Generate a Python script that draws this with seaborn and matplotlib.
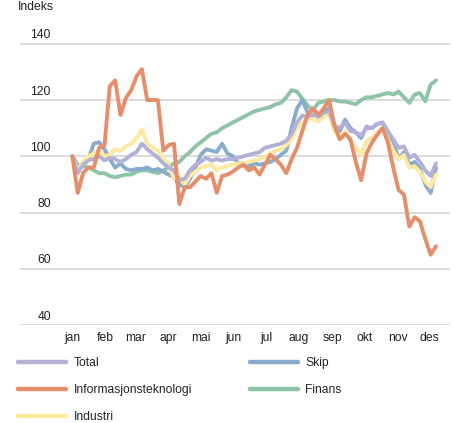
import matplotlib
matplotlib.use("Agg")
import matplotlib.pyplot as plt
import numpy as np
import pandas as pd
import seaborn as sns

# index values, one point every 5 days from 1 Jan
dates = pd.date_range("2022-01-01", periods=69, freq="5D")

total = [100, 94, 97, 98.5, 99, 100, 98.5, 99.5, 99, 98, 99, 100.5, 101.5, 104.5, 102.5,
         101, 99.5, 97.5, 96, 95, 91.5, 92, 95, 97, 98, 99.5, 98.5, 99, 98.5, 99,
         99, 99.5, 100, 100.5, 101, 101.5, 103, 103.5, 104, 104.5, 105.5, 108, 112, 114.5, 114,
         115, 114, 115.5, 116, 111, 110, 112, 109, 108.5, 107.5, 110, 110, 111.5, 112, 109,
         106, 103, 103.5, 99.5, 100.5, 98, 95, 93, 97.5]
it = [100, 87, 94, 96, 96, 103, 104, 125, 127, 114.7, 120.7, 123.5, 128.4, 131, 120,
      120, 120, 102, 104, 104.5, 83, 89, 89, 91, 93, 92, 94, 87, 93, 93.5,
      94.5, 96, 97, 95, 96, 93.5, 97, 100.5, 99, 97, 94, 99, 103, 109, 114.7,
      117, 114.7, 117, 120, 111, 106, 108, 106, 98, 91.5, 101, 104.8, 107.6, 110, 105,
      96, 88, 86.4, 75, 78.3, 76.9, 70.5, 65, 68]
industri = [100, 95, 98, 100, 101, 102, 100, 100.5, 102.5, 102, 103.5, 104.5, 106.5, 109.5, 104.5,
            103, 102, 99.5, 97, 92, 93, 90, 93, 94.5, 96, 96.5, 97, 95, 96, 96.5,
            97, 97.5, 97.5, 98, 98.5, 99, 100, 101, 102, 102.5, 104, 106, 110, 112, 113.5,
            113, 112.5, 114, 115, 109, 106.5, 109, 105.5, 103, 100.5, 105.5, 106.5, 108.5, 110, 106,
            102, 99, 100.5, 96, 96.5, 94.5, 91, 89, 93.5]
skip = [100, 95, 97, 99, 104.5, 105, 102.5, 99, 96, 97.5, 95.5, 95, 95.5, 95.5, 96,
        95, 95.5, 94.5, 93.5, 92.5, 90, 89, 92, 96, 100.5, 102.5, 102, 101.5, 104.5, 101,
        100, 97.5, 97.5, 96.5, 97.5, 97, 97.5, 98, 99, 100.5, 102, 110, 117, 120, 115.5,
        114.5, 115, 116, 117, 111, 109, 113, 110, 108.5, 106.5, 110.5, 110, 111.5, 112, 108,
        105, 99, 101.5, 97, 98, 95.5, 90, 87, 96]
finans = [100, 97, 96.5, 96, 95, 94, 94, 93, 92.5, 93, 93.5, 93.5, 94.5, 95, 95,
          94.5, 94, 95, 96, 97.5, 98, 100, 101.5, 103.5, 105, 106.5, 108, 108.5, 110, 111,
          112, 113, 114, 115, 116, 116.5, 117, 117.5, 118.5, 119, 121, 123.5, 123, 120.5, 118,
          116.5, 119, 119.5, 120, 120, 119.5, 119.5, 119, 118.5, 120, 121, 121, 121.5, 122, 122.5,
          122, 123, 121, 119, 122, 122.5, 119.5, 125.5, 127]

series = {
    "Total": total,
    "Informasjonsteknologi": it,
    "Industri": industri,
    "Skip": skip,
    "Finans": finans,
}
colors = {
    "Total": "#b4b1d9",
    "Informasjonsteknologi": "#e58e6b",
    "Industri": "#fde9a0",
    "Skip": "#89abce",
    "Finans": "#8fc4a8",
}
draw_order = ["Finans", "Skip", "Industri", "Total", "Informasjonsteknologi"]
legend_order = ["Total", "Informasjonsteknologi", "Industri", "Skip", "Finans"]
month_labels = ["jan", "feb", "mar", "apr", "mai", "jun", "jul", "aug", "sep", "okt", "nov", "des"]
y_ticks = [40, 60, 80, 100, 120, 140]

sns.set_style("white")
plt.rcParams["font.family"] = ["Liberation Sans", "DejaVu Sans"]

df = pd.DataFrame({"dato": dates, **series})
long = df.melt(id_vars="dato", var_name="serie", value_name="indeks")

fig = plt.figure(figsize=(4.54, 4.23), dpi=100)
ax = fig.add_axes([0.044, 0.2317, 0.947, 0.678])

sns.lineplot(data=long, x="dato", y="indeks", hue="serie", hue_order=draw_order,
             palette=colors, linewidth=2.8, legend=False, ax=ax, zorder=3)

ax.set_ylim(40, 142)
ax.set_xlim(pd.Timestamp("2021-11-13"), pd.Timestamp("2022-12-20"))
ax.set_yticks(y_ticks)
ax.set_yticklabels([])
ax.yaxis.grid(True, color="#dcdcdc", linewidth=1.4)
ax.xaxis.grid(False)
ax.tick_params(axis="both", length=0)
for s in ax.spines.values():
    s.set_visible(False)

ax.set_xticks(pd.date_range("2022-01-01", periods=12, freq="MS"))
ax.set_xticklabels(month_labels, fontsize=8.7, color="#222222")
ax.tick_params(axis="x", pad=5)
ax.set_xlabel("")
ax.set_ylabel("")

# y labels sit above their gridlines, right aligned
for v in y_ticks:
    ax.text(0.072, v + 3.0, str(v), transform=ax.get_yaxis_transform(),
            ha="right", va="center", fontsize=8.7, color="#222222")

fig.text(18 / 454, 1 - 7 / 423, "Indeks", ha="left", va="center", fontsize=8.7, color="#222222")

handles = [plt.Line2D([], [], color=colors[k], linewidth=3.2, solid_capstyle="round")
           for k in legend_order]
fig.legend(handles, legend_order, ncol=2, loc="upper left", bbox_to_anchor=(0.04, 0.156),
           frameon=False, fontsize=8.7, handlelength=4.0, handletextpad=0.6,
           columnspacing=4.75, labelspacing=1.24, borderaxespad=0, borderpad=0)

fig.savefig("out.png", dpi=100)
